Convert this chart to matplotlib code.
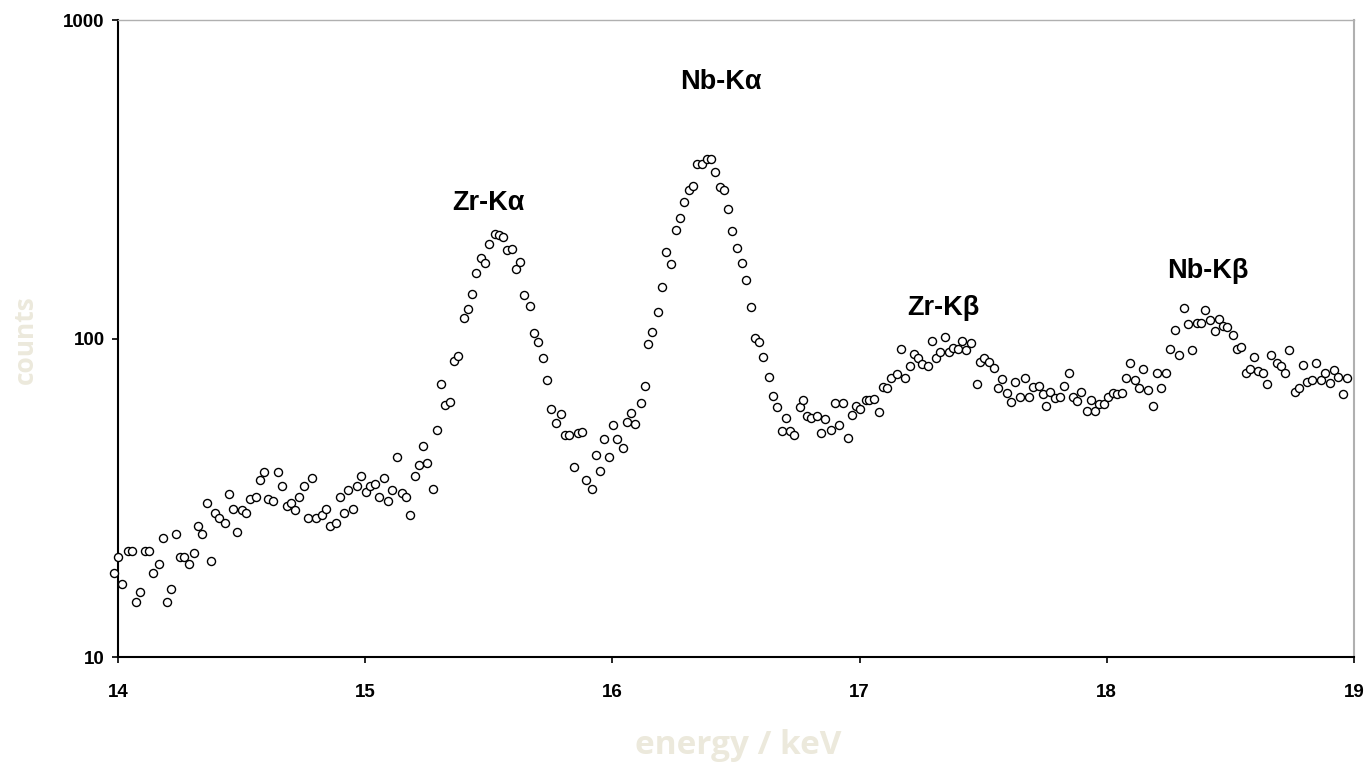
import matplotlib
matplotlib.use("Agg")
import matplotlib.pyplot as plt
from matplotlib.ticker import FixedLocator, NullLocator, FixedFormatter

# channel energies (keV) and counts
energy = [
    13.985, 14.001, 14.017, 14.039, 14.055, 14.072, 14.088, 14.109, 14.125, 14.143,
    14.165, 14.181, 14.197, 14.213, 14.235, 14.250, 14.267, 14.286, 14.307, 14.325,
    14.340, 14.361, 14.377, 14.394, 14.410, 14.433, 14.449, 14.465, 14.481, 14.503,
    14.519, 14.535, 14.557, 14.573, 14.589, 14.606, 14.627, 14.646, 14.662, 14.684,
    14.700, 14.716, 14.732, 14.754, 14.770, 14.786, 14.802, 14.826, 14.843, 14.859,
    14.881, 14.897, 14.913, 14.929, 14.951, 14.967, 14.983, 15.004, 15.021, 15.040,
    15.056, 15.076, 15.093, 15.110, 15.127, 15.148, 15.164, 15.180, 15.203, 15.219,
    15.235, 15.251, 15.273, 15.289, 15.305, 15.322, 15.343, 15.360, 15.377, 15.398,
    15.415, 15.431, 15.447, 15.470, 15.486, 15.502, 15.524, 15.540, 15.556, 15.573,
    15.595, 15.611, 15.627, 15.644, 15.665, 15.682, 15.698, 15.720, 15.737, 15.753,
    15.770, 15.791, 15.807, 15.824, 15.846, 15.862, 15.878, 15.894, 15.916, 15.932,
    15.949, 15.966, 15.987, 16.004, 16.020, 16.042, 16.058, 16.075, 16.091, 16.114,
    16.130, 16.146, 16.162, 16.184, 16.201, 16.217, 16.238, 16.256, 16.272, 16.288,
    16.309, 16.326, 16.341, 16.363, 16.381, 16.398, 16.414, 16.434, 16.452, 16.468,
    16.485, 16.505, 16.523, 16.539, 16.561, 16.576, 16.594, 16.610, 16.632, 16.648,
    16.664, 16.686, 16.702, 16.718, 16.736, 16.757, 16.773, 16.789, 16.805, 16.829,
    16.845, 16.861, 16.883, 16.899, 16.915, 16.932, 16.953, 16.969, 16.985, 17.002,
    17.024, 17.040, 17.057, 17.079, 17.094, 17.112, 17.128, 17.150, 17.166, 17.182,
    17.204, 17.220, 17.236, 17.253, 17.276, 17.292, 17.308, 17.324, 17.346, 17.362,
    17.379, 17.400, 17.416, 17.432, 17.450, 17.473, 17.488, 17.505, 17.525, 17.543,
    17.559, 17.577, 17.598, 17.614, 17.630, 17.647, 17.669, 17.686, 17.703, 17.724,
    17.740, 17.756, 17.772, 17.791, 17.812, 17.827, 17.846, 17.864, 17.881, 17.897,
    17.919, 17.935, 17.952, 17.968, 17.990, 18.006, 18.024, 18.042, 18.061, 18.078,
    18.095, 18.115, 18.132, 18.148, 18.167, 18.187, 18.203, 18.220, 18.240, 18.257,
    18.275, 18.291, 18.311, 18.328, 18.345, 18.364, 18.382, 18.398, 18.417, 18.436,
    18.455, 18.471, 18.487, 18.509, 18.525, 18.542, 18.563, 18.579, 18.596, 18.612,
    18.633, 18.649, 18.666, 18.687, 18.704, 18.720, 18.736, 18.760, 18.777, 18.793,
    18.809, 18.830, 18.846, 18.865, 18.884, 18.903, 18.919, 18.935, 18.957, 18.973,
]
counts = [
    18.4, 20.6, 16.9, 21.6, 21.6, 14.9, 16.0, 21.6, 21.6, 18.4,
    19.6, 23.6, 14.9, 16.4, 24.3, 20.6, 20.6, 19.6, 21.2, 25.7,
    24.3, 30.4, 20.0, 28.4, 27.3, 26.3, 32.5, 29.2, 24.7, 28.9,
    28.4, 31.3, 31.9, 35.9, 38.1, 31.3, 31.0, 38.1, 34.5, 29.8,
    30.4, 28.9, 31.9, 34.5, 27.3, 36.6, 27.3, 27.9, 29.2, 25.7,
    26.3, 31.9, 28.4, 33.5, 29.2, 34.5, 36.9, 32.9, 34.5, 35.0,
    31.9, 36.6, 31.0, 33.5, 42.4, 32.7, 31.9, 27.9, 36.9, 40.0,
    45.9, 40.7, 33.8, 51.5, 71.8, 61.8, 63.1, 84.8, 88.1, 116.1,
    124.2, 138.4, 160.3, 179.2, 173.3, 198.7, 213.2, 211.3, 208.6, 189.3,
    191.0, 164.9, 173.5, 137.2, 126.8, 104.4, 97.5, 86.7, 74.2, 59.9,
    54.3, 58.1, 49.7, 49.7, 39.6, 50.6, 51.0, 35.9, 33.6, 43.2,
    38.5, 48.5, 42.4, 53.5, 48.5, 45.4, 54.6, 58.4, 54.1, 62.6,
    71.1, 96.5, 104.6, 120.9, 145.6, 187.6, 171.6, 219.1, 238.9, 268.9,
    293.3, 302.2, 353.6, 353.6, 367.4, 367.4, 333.3, 299.4, 293.3, 255.6,
    217.0, 193.1, 173.3, 152.9, 125.8, 100.4, 97.6, 87.5, 75.6, 65.9,
    61.0, 51.1, 56.4, 51.1, 49.8, 61.0, 64.1, 57.0, 56.5, 57.0,
    50.7, 55.9, 51.6, 62.8, 53.7, 62.8, 48.9, 57.6, 61.6, 59.9,
    64.1, 64.1, 64.7, 58.7, 70.7, 70.0, 75.0, 77.2, 92.8, 75.0,
    81.9, 89.4, 86.7, 83.5, 81.9, 98.3, 86.7, 91.0, 101.3, 91.0,
    93.7, 92.8, 98.3, 91.9, 96.6, 72.0, 84.3, 86.7, 84.3, 81.0,
    70.0, 74.9, 67.3, 63.4, 72.9, 65.5, 75.0, 65.6, 70.3, 70.8,
    67.2, 61.2, 67.9, 65.3, 65.4, 70.8, 77.9, 65.7, 63.6, 68.2,
    59.4, 64.1, 59.4, 62.2, 62.1, 65.7, 67.5, 66.9, 67.3, 75.0,
    83.6, 74.3, 70.2, 80.4, 68.8, 61.2, 78.0, 70.2, 78.0, 92.9,
    106.6, 88.6, 124.5, 110.9, 92.2, 112.0, 112.0, 123.3, 114.2, 105.7,
    115.3, 109.8, 108.8, 102.7, 93.0, 93.9, 78.0, 80.5, 87.8, 79.0,
    78.0, 72.1, 88.6, 83.6, 82.1, 78.0, 92.2, 68.2, 70.2, 82.9,
    72.9, 74.0, 83.6, 74.3, 78.2, 72.3, 79.8, 75.8, 66.9, 75.0,
]

peak_labels = ["Zr-K\u03b1", "Nb-K\u03b1", "Zr-K\u03b2", "Nb-K\u03b2"]
peak_label_x = [15.50, 16.44, 17.34, 18.41]
peak_label_y = [267, 637, 125, 163]

x_ticks = [14, 15, 16, 17, 18, 19]
y_ticks = [10, 100, 1000]

fig = plt.figure(figsize=(13.67, 7.73), dpi=100)
ax = fig.add_axes([0.0863, 0.150, 0.9042, 0.824])

ax.plot(energy, counts, linestyle="none", marker="o", markersize=5.8,
        markerfacecolor="white", markeredgecolor="black", markeredgewidth=1.0,
        clip_on=False, zorder=3)

ax.set_yscale("log")
ax.set_xlim(14, 19)
ax.set_ylim(10, 1000)

ax.xaxis.set_major_locator(FixedLocator(x_ticks))
ax.xaxis.set_minor_locator(NullLocator())
ax.yaxis.set_major_locator(FixedLocator(y_ticks))
ax.yaxis.set_major_formatter(FixedFormatter([str(v) for v in y_ticks]))
ax.yaxis.set_minor_locator(NullLocator())

tick_font = dict(family="Liberation Sans", weight="bold", size=13.5)
for lab in ax.get_xticklabels() + ax.get_yticklabels():
    lab.set_fontproperties(tick_font)
ax.tick_params(axis="both", direction="out", length=4.5, width=1.2, color="black")
ax.tick_params(axis="x", pad=15)
ax.tick_params(axis="y", pad=5)

ax.spines["left"].set_color("black")
ax.spines["left"].set_linewidth(1.5)
ax.spines["bottom"].set_color("black")
ax.spines["bottom"].set_linewidth(1.5)
ax.spines["top"].set_color("#b0b0b0")
ax.spines["top"].set_linewidth(1.0)
ax.spines["right"].set_color("#b0b0b0")
ax.spines["right"].set_linewidth(1.5)

for txt, tx, ty in zip(peak_labels, peak_label_x, peak_label_y):
    ax.text(tx, ty, txt, ha="center", va="center", fontsize=19.5,
            fontweight="bold", family="Liberation Sans")

label_color = "#ECE9DC"
fig.text(0.0183, 0.56, "counts", rotation=90, ha="center", va="center",
         fontsize=19, fontweight="bold", family="Open Sans", color=label_color)
fig.text(0.540, 0.036, "energy / keV", ha="center", va="center",
         fontsize=24, fontweight="bold", family="Open Sans", color=label_color)

fig.savefig("out.png", dpi=100, facecolor="white")
